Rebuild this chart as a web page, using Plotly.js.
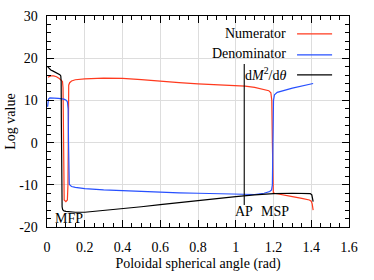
<!DOCTYPE html>
<html>
<head>
<meta charset="utf-8">
<script src="https://cdn.plot.ly/plotly-3.0.1.min.js"></script>
<style>
html,body{margin:0;padding:0;background:#fff;}
#chart{width:374px;height:280px;}
</style>
</head>
<body>
<div id="chart"></div>
<script>
// ---- data ----
const numX = [0.005, 0.02, 0.035, 0.05, 0.065, 0.075, 0.082, 0.085, 0.087, 0.088, 0.091, 0.1, 0.108, 0.111, 0.112, 0.113, 0.115, 0.12, 0.13, 0.15, 0.2, 0.3, 0.4, 0.5, 0.6, 0.7, 0.8, 0.9, 1.0, 1.05, 1.1, 1.15, 1.175, 1.186, 1.191, 1.194, 1.196, 1.199, 1.205, 1.25, 1.3, 1.35, 1.39, 1.4, 1.405, 1.41];
const numY = [15.5, 15.8, 15.8, 15.6, 15.2, 14.9, 14.5, 13, 5, -10, -13.6, -14.0, -13.6, -10, 0, 12.5, 13.6, 14.2, 14.6, 14.9, 15.1, 15.3, 15.2, 14.9, 14.5, 14.2, 13.9, 13.7, 13.5, 13.4, 13.1, 12.6, 12.3, 11.8, 10, 0, -10, -11.8, -12.0, -12.3, -12.8, -13.2, -13.6, -13.9, -14.5, -16.0];

const denX = [0.003, 0.008, 0.015, 0.03, 0.06, 0.09, 0.1, 0.108, 0.112, 0.114, 0.115, 0.116, 0.118, 0.122, 0.13, 0.15, 0.2, 0.3, 0.4, 0.5, 0.6, 0.7, 0.8, 0.9, 1.0, 1.05, 1.1, 1.15, 1.18, 1.19, 1.194, 1.197, 1.2, 1.205, 1.22, 1.3, 1.41];
const denY = [8.5, 10.3, 10.6, 10.6, 10.5, 10.3, 10.1, 9.7, 8, 0, -5, -9, -9.8, -10.1, -10.4, -10.6, -10.9, -11.2, -11.4, -11.6, -11.8, -11.9, -12.0, -12.1, -12.3, -12.35, -12.3, -12.0, -11.6, -11.2, -10, 0, 10, 11.3, 11.9, 12.9, 14.0];

const derX = [0.003, 0.01, 0.02, 0.03, 0.05, 0.068, 0.073, 0.075, 0.076, 0.077, 0.078, 0.08, 0.083, 0.09, 0.1, 0.12, 0.15, 0.2, 0.3, 0.4, 0.5, 0.6, 0.7, 0.8, 0.9, 1.0, 1.1, 1.2, 1.3, 1.38, 1.395, 1.403, 1.407, 1.41];
const derY = [18.0, 17.6, 17.2, 17.0, 16.6, 16.1, 15.8, 14.5, 5, -5, -12, -15.2, -15.9, -16.2, -16.3, -16.4, -16.5, -16.5, -16.1, -15.7, -15.2, -14.7, -14.2, -13.7, -13.2, -12.8, -12.4, -12.1, -12.0, -12.0, -12.1, -12.4, -13.2, -14.0];

// AP marker line
const apX = [1.045, 1.045];
const apY = [-14.8, 18.6];

// point labels
const pointNames = ["MFP", "AP", "MSP"];
const pointX = [0.114, 1.045, 1.208];
const pointY = [-18.1, -16.4, -16.4];

const seriesNames = ["Numerator", "Denominator", "d<i>M</i><sup>2</sup>/d<i>θ</i>"];
const seriesColors = ["#ff3a1e", "#2750ff", "#000000"];

const xTickVals = [0, 0.2, 0.4, 0.6, 0.8, 1, 1.2, 1.4, 1.6];
const xTickText = ["0", "0.2", "0.4", "0.6", "0.8", "1", "1.2", "1.4", "1.6"];
const yTickVals = [-20, -10, 0, 10, 20, 30];
const yTickText = ["-20", "-10", "0", "10", "20", "30"];

// ---- chart ----
const FONT = 'Liberation Serif, Times New Roman, serif';
const lineW = 1.2;

const traces = [
  {x: numX, y: numY, mode: 'lines', line: {color: seriesColors[0], width: lineW}, name: 'Numerator'},
  {x: denX, y: denY, mode: 'lines', line: {color: seriesColors[1], width: lineW}, name: 'Denominator'},
  {x: derX, y: derY, mode: 'lines', line: {color: seriesColors[2], width: lineW}, name: 'dM2/dtheta'},
  {x: apX, y: apY, mode: 'lines', line: {color: '#000', width: 1.1}, name: 'AP', hoverinfo: 'skip'}
];

const annotations = [];
for (let i = 0; i < pointNames.length; i++) {
  annotations.push({x: pointX[i], y: pointY[i], xref: 'x', yref: 'y', text: pointNames[i],
    showarrow: false, font: {family: FONT, size: 14, color: '#000'}, xanchor: 'center', yanchor: 'middle'});
}
// custom legend (text on the left, line sample on the right)
const legRowsY = [0.919, 0.820, 0.725];
const shapes = [
  {type: 'rect', xref: 'paper', yref: 'paper', x0: 0.546, x1: 0.993, y0: 0.697, y1: 0.99,
   fillcolor: '#fff', line: {width: 0}, layer: 'between'}
];
for (let i = 0; i < seriesNames.length; i++) {
  annotations.push({x: 0.798, y: legRowsY[i], xref: 'paper', yref: 'paper', text: seriesNames[i],
    showarrow: false, xanchor: 'right', yanchor: 'middle', font: {family: FONT, size: 14, color: '#000'}});
  shapes.push({type: 'line', xref: 'paper', yref: 'paper', x0: 0.828, x1: 0.944,
    y0: legRowsY[i] - 0.004, y1: legRowsY[i] - 0.004, line: {color: seriesColors[i], width: lineW}});
}

const axisCommon = {
  showline: true, linecolor: '#000', linewidth: 1.4, mirror: 'ticks',
  ticks: 'inside', ticklen: 7, tickwidth: 1, tickcolor: '#000',
  showgrid: true, gridcolor: '#dddddd', gridwidth: 1, zeroline: false,
  tickfont: {family: FONT, size: 14, color: '#000'}
};

const layout = {
  width: 374, height: 280,
  margin: {l: 47, r: 25, t: 16, b: 53},
  paper_bgcolor: '#fff', plot_bgcolor: '#fff',
  showlegend: false,
  font: {family: FONT, color: '#000'},
  xaxis: Object.assign({}, axisCommon, {
    range: [0, 1.6], tickmode: 'array', tickvals: xTickVals, ticktext: xTickText,
    ticklabelstandoff: 7,
    minor: {tickmode: 'linear', tick0: 0, dtick: 0.05, ticks: 'inside', ticklen: 4, tickcolor: '#000', tickwidth: 1, showgrid: false},
    title: {text: 'Poloidal spherical angle (rad)', font: {family: FONT, size: 14, color: '#000'}, standoff: 4}
  }),
  yaxis: Object.assign({}, axisCommon, {
    range: [-20, 30], tickmode: 'array', tickvals: yTickVals, ticktext: yTickText,
    ticklabelstandoff: 5,
    minor: {tickmode: 'linear', tick0: 0, dtick: 2, ticks: 'inside', ticklen: 4, tickcolor: '#000', tickwidth: 1, showgrid: false},
    title: {text: 'Log value', font: {family: FONT, size: 14, color: '#000'}, standoff: 0}
  }),
  annotations: annotations,
  shapes: shapes
};

Plotly.newPlot('chart', traces, layout, {staticPlot: true, displayModeBar: false});
</script>
</body>
</html>
